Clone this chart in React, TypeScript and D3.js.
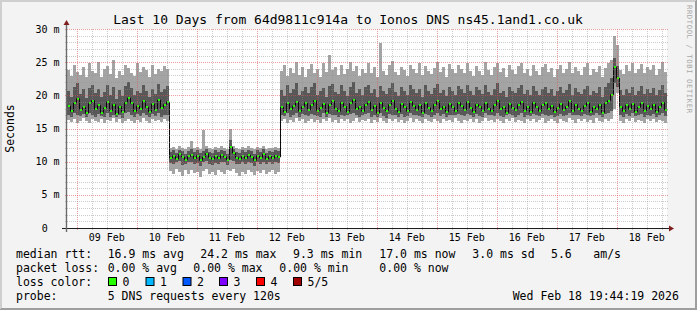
import React from "react";
import * as d3 from "d3";

const W = 697;
const H = 310;
const FONT = "'DejaVu Sans Mono', monospace";

const title = "Last 10 Days from 64d9811c914a to Ionos DNS ns45.1and1.co.uk";
const yAxisTitle = "Seconds";
const watermark = "RRDTOOL / TOBI OETIKER";
const yTickValues = [0, 5, 10, 15, 20, 25, 30];
const yTickLabels = ["0", "5 m", "10 m", "15 m", "20 m", "25 m", "30 m"];
const startTime = Date.UTC(2026, 1, 8, 20, 4);
const endTime = startTime + 10 * 86400000;
const binMinutes = 72;

// ping 1 (lowest of 5), per 72-minute bin, in ms
const pingMin = [
  16.3, 16.0, 16.5, 15.9, 16.2, 16.6, 16.1, 15.8, 16.4, 16.2,
  16.0, 16.5, 15.9, 16.3, 16.1, 16.6, 16.0, 16.4, 15.8, 16.2,
  16.5, 16.1, 15.9, 16.3, 16.0, 16.6, 16.2, 15.9, 16.4, 16.1,
  16.3, 16.0, 16.5, 16.2,
  8.6, 8.2, 8.9, 8.4, 7.9, 8.7, 8.1, 8.8, 8.3, 8.5,
  7.7, 8.6, 8.9, 8.2, 8.4, 8.0, 8.7, 8.5, 8.1, 8.8,
  8.6, 8.9, 8.3, 7.8, 8.5, 8.2, 8.7, 8.4, 8.0, 8.6,
  8.3, 8.8, 8.1, 8.5, 8.7, 8.2, 8.4,
  16.2, 16.5, 15.9, 16.3, 16.0, 16.6, 16.1, 16.4, 15.9, 16.2,
  16.5, 16.0, 16.3, 15.8, 16.4, 16.1, 16.6, 16.0, 16.3, 15.9,
  16.4, 16.1, 16.5, 15.9, 16.2, 16.6, 16.0, 16.3, 16.1, 16.5,
  15.9, 16.3, 16.0, 16.6, 16.2, 15.8, 16.4, 16.1, 16.5, 16.0,
  16.3, 15.9, 16.2, 16.6, 16.0, 16.4, 16.1, 15.9, 16.5, 16.2,
  16.0, 16.4, 16.2, 15.8, 16.5, 16.1, 16.3, 16.0, 16.6, 16.2,
  15.9, 16.3, 16.1, 16.5, 16.0, 16.4, 15.9, 16.2, 16.6, 16.1,
  16.3, 16.0, 16.5, 16.2, 15.8, 16.4, 16.1, 16.6, 16.0, 16.3,
  16.2, 15.9, 16.5, 16.1, 16.4, 16.0, 16.3, 16.6, 15.9, 16.2,
  16.4, 16.1, 15.8, 16.5, 16.2, 16.0, 16.6, 16.3, 15.9, 16.4,
  16.1, 16.5, 16.0, 16.3, 15.9, 16.6, 16.2, 16.0, 16.4, 16.1,
  16.5, 18.0, 20.4, 16.2, 15.9, 16.4, 16.1, 16.6, 16.0, 16.3,
  16.2, 15.9, 16.5, 16.1, 16.4, 16.0, 16.3, 16.2, 15.9,
];

// ping 2
const ping2 = [
  17.1, 16.8, 17.4, 17.0, 16.9, 17.2, 16.7, 17.3, 17.0, 16.8,
  17.2, 16.9, 16.8, 17.4, 16.7, 17.1, 16.8, 17.0, 16.6, 17.3,
  17.5, 17.0, 16.8, 17.2, 16.9, 17.3, 17.1, 16.7, 17.2, 16.9,
  17.4, 16.8, 17.1, 17.0,
  9.8, 9.6, 9.9, 10.1, 9.5, 9.7, 9.9, 10.0, 9.6, 9.8,
  9.4, 9.9, 10.1, 9.7, 9.5, 9.8, 9.6, 10.0, 9.9, 9.5,
  10.2, 10.1, 9.7, 9.6, 9.9, 9.7, 10.0, 9.8, 9.4, 9.9,
  9.7, 10.0, 9.6, 9.9, 9.7, 10.0, 9.8,
  17.0, 16.9, 17.3, 16.8, 17.1, 17.4, 16.8, 17.2, 17.0, 16.9,
  17.2, 17.1, 16.9, 16.7, 17.3, 16.8, 17.2, 17.0, 17.1, 16.7,
  17.1, 16.9, 17.0, 17.2, 17.4, 17.1, 16.8, 17.0, 17.2, 17.3,
  16.8, 17.1, 16.7, 17.3, 16.9, 16.6, 17.2, 17.0, 17.1, 16.8,
  17.2, 16.8, 16.9, 17.3, 17.0, 17.1, 16.9, 16.7, 17.2, 17.0,
  16.8, 17.1, 17.3, 16.9, 17.2, 16.8, 17.0, 17.1, 17.0, 17.2,
  17.0, 16.9, 17.2, 17.1, 16.8, 17.2, 16.9, 16.8, 17.3, 17.0,
  17.0, 16.9, 17.3, 16.9, 16.8, 17.0, 17.2, 17.1, 16.8, 17.1,
  17.3, 16.8, 17.1, 16.9, 17.2, 17.0, 16.9, 17.2, 17.0, 16.9,
  17.1, 16.8, 16.9, 17.2, 16.9, 17.0, 17.3, 17.0, 17.1, 17.0,
  16.9, 17.2, 17.1, 16.9, 17.0, 17.3, 17.1, 16.8, 17.2, 17.4,
  17.6, 21.8, 21.3, 17.1, 16.8, 17.2, 16.9, 17.3, 16.9, 17.0,
  17.2, 16.8, 17.1, 16.9, 17.2, 16.8, 17.0, 17.3, 16.9,
];

// ping 3 (median)
const median = [
  18.4, 17.6, 18.9, 19.5, 17.8, 18.2, 17.3, 18.8, 19.2, 17.9,
  18.5, 17.4, 18.1, 19.0, 17.7, 18.6, 17.2, 18.3, 17.5, 18.9,
  19.6, 18.8, 17.6, 18.4, 17.9, 19.1, 18.2, 17.5, 18.7, 17.8,
  19.3, 18.1, 18.6, 19.0,
  10.6, 10.9, 10.4, 11.1, 10.7, 10.3, 10.8, 11.0, 10.5, 10.9,
  10.2, 10.7, 11.2, 10.6, 10.4, 10.8, 10.5, 11.0, 10.7, 10.3,
  12.2, 11.3, 10.6, 10.4, 10.8, 10.5, 11.0, 10.7, 10.2, 10.9,
  10.6, 11.1, 10.4, 10.8, 10.5, 10.9, 10.7,
  18.2, 17.5, 18.8, 17.9, 18.4, 19.0, 17.6, 18.3, 18.9, 17.8,
  18.5, 19.2, 17.7, 18.1, 18.7, 17.4, 18.6, 19.1, 18.0, 17.6,
  18.9, 18.3, 17.5, 18.8, 19.3, 17.9, 18.2, 17.6, 18.6, 19.0,
  17.8, 18.4, 17.3, 18.9, 18.1, 17.7, 18.6, 19.2, 18.0, 17.5,
  18.7, 18.2, 17.6, 19.0, 18.4, 17.8, 18.5, 17.4, 18.8, 18.1,
  17.7, 18.6, 19.1, 17.9, 18.3, 17.5, 18.7, 18.2, 17.6, 18.9,
  18.4, 17.8, 19.0, 18.1, 17.5, 18.6, 18.3, 17.7, 18.8, 18.0,
  17.6, 18.5, 19.2, 17.9, 18.2, 17.4, 18.7, 18.1, 17.8, 18.6,
  19.0, 17.7, 18.3, 17.5, 18.9, 18.2, 17.6, 18.5, 18.8, 17.9,
  18.4, 17.5, 18.1, 18.7, 17.8, 18.3, 19.1, 17.6, 18.6, 18.0,
  17.7, 18.4, 18.9, 17.5, 18.2, 17.9, 18.6, 17.4, 18.8, 19.2,
  20.1, 24.2, 22.6, 18.3, 17.6, 18.5, 17.9, 18.7, 17.5, 18.2,
  18.8, 17.7, 18.4, 17.9, 18.6, 17.5, 18.3, 18.9, 17.8,
];

// ping 4
const ping4 = [
  20.6, 19.8, 21.3, 21.8, 20.2, 20.9, 19.6, 21.1, 21.5, 20.4,
  21.0, 19.7, 20.5, 21.6, 20.1, 21.2, 19.5, 20.8, 19.9, 21.4,
  22.0, 21.1, 20.0, 20.7, 20.3, 21.5, 20.6, 19.8, 21.0, 20.2,
  21.7, 20.5, 21.0, 21.4,
  11.5, 11.7, 11.3, 11.8, 11.6, 11.2, 11.6, 11.9, 11.4, 11.7,
  11.3, 11.6, 11.9, 11.5, 11.3, 11.7, 11.4, 11.8, 11.6, 11.2,
  13.2, 11.9, 11.5, 11.3, 11.7, 11.4, 11.8, 11.6, 11.2, 11.7,
  11.5, 11.9, 11.3, 11.6, 11.4, 11.8, 11.6,
  20.8, 19.9, 21.5, 20.3, 21.0, 21.8, 20.1, 20.7, 21.3, 20.4,
  21.2, 21.9, 20.0, 20.6, 21.1, 19.8, 21.4, 21.7, 20.5, 20.2,
  21.6, 20.7, 19.9, 21.3, 22.0, 20.4, 20.9, 20.1, 21.2, 21.5,
  20.3, 21.0, 19.7, 21.4, 20.6, 20.2, 21.1, 21.8, 20.5, 19.9,
  21.3, 20.7, 20.0, 21.6, 20.9, 20.3, 21.0, 19.8, 21.5, 20.6,
  20.2, 21.1, 21.7, 20.4, 20.8, 19.9, 21.3, 20.7, 20.1, 21.4,
  20.9, 20.3, 21.6, 20.6, 20.0, 21.2, 20.8, 20.2, 21.5, 20.5,
  20.1, 21.0, 21.8, 20.4, 20.7, 19.8, 21.3, 20.6, 20.3, 21.1,
  21.5, 20.2, 20.8, 20.0, 21.4, 20.7, 20.1, 21.0, 21.3, 20.4,
  20.9, 19.9, 20.6, 21.2, 20.3, 20.8, 21.7, 20.1, 21.1, 20.5,
  20.2, 20.9, 21.4, 20.0, 20.7, 20.4, 21.2, 19.8, 21.3, 21.8,
  22.6, 25.6, 24.4, 20.8, 20.1, 21.0, 20.4, 21.3, 20.0, 20.7,
  21.4, 20.2, 20.9, 20.4, 21.1, 20.0, 20.8, 21.5, 20.3,
];

// ping 5 (highest of 5)
const pingMax = [
  23.8, 22.9, 24.6, 23.5, 23.1, 24.2, 22.7, 24.9, 23.6, 23.3,
  25.0, 22.8, 23.9, 24.4, 23.2, 25.3, 22.6, 23.7, 23.0, 24.5,
  24.1, 23.4, 22.9, 24.8, 23.5, 24.3, 23.8, 22.7, 24.6, 23.2,
  24.0, 23.6, 24.4, 23.9,
  12.0, 12.2, 11.9, 12.3, 12.1, 11.9, 12.2, 13.1, 12.0, 12.2,
  11.9, 14.8, 12.3, 12.0, 11.9, 12.2, 12.0, 12.3, 12.1, 11.9,
  14.9, 12.3, 12.1, 11.9, 12.2, 12.0, 12.3, 12.1, 11.9, 12.2,
  12.0, 12.3, 11.9, 12.1, 12.0, 12.2, 12.1,
  23.6, 24.5, 22.9, 24.1, 23.4, 25.0, 23.1, 24.3, 22.8, 23.9,
  24.7, 23.3, 24.0, 22.7, 24.9, 23.5, 26.1, 23.8, 24.2, 23.0,
  24.6, 23.2, 23.9, 25.1, 23.6, 24.4, 22.9, 24.0, 23.3, 24.8,
  23.4, 24.2, 22.8, 27.9, 23.7, 23.1, 24.5, 25.2, 23.5, 23.0,
  24.3, 23.8, 22.9, 24.6, 24.0, 23.3, 24.9, 23.1, 24.4, 23.6,
  23.2, 24.1, 25.0, 23.5, 24.3, 22.8, 24.7, 23.9, 23.4, 24.5,
  24.0, 23.3, 24.8, 23.7, 22.9, 24.4, 23.6, 23.1, 25.1, 23.8,
  23.0, 24.3, 24.9, 23.5, 24.1, 22.7, 24.6, 23.8, 23.2, 24.4,
  24.8, 23.4, 24.0, 22.9, 24.5, 23.7, 23.1, 24.2, 24.7, 23.5,
  24.1, 22.8, 23.9, 24.6, 23.3, 24.0, 25.0, 23.4, 24.3, 23.7,
  23.1, 24.2, 24.8, 23.0, 23.9, 23.5, 24.4, 22.8, 24.1, 24.9,
  25.4, 28.9, 27.6, 23.8, 23.2, 24.5, 23.6, 24.9, 23.3, 24.0,
  24.7, 23.4, 24.2, 23.8, 24.6, 23.1, 24.0, 25.0, 23.5,
];

const statLabels = ["median rtt:", "packet loss:", "loss color:", "probe:"];
const rttItems = ["16.9 ms avg", "24.2 ms max", "9.3 ms min", "17.0 ms now", "3.0 ms sd", "5.6", "am/s"];
const rttX = [107.7, 200.3, 293, 379.3, 472.3, 551, 593.3];
const lossItems = ["0.00 % avg", "0.00 % max", "0.00 % min", "0.00 % now"];
const lossX = [107.7, 193.3, 279.3, 379.3];
const lossColorLabels = ["0", "1", "2", "3", "4", "5/5"];
const lossColors = ["#26ff00", "#00b8ff", "#0059ff", "#7e00ff", "#ff0000", "#a10000"];
const lossBoxX = [108, 145.5, 182.5, 219, 256, 293];
const probeText = "5 DNS requests every 120s";
const dateText = "Wed Feb 18 19:44:19 2026";

export default function App() {
  const x = d3
    .scaleUtc()
    .domain([new Date(startTime), new Date(endTime)])
    .range([67, 667]);
  const y = d3.scaleLinear().domain([0, 30]).range([228, 29]);
  const binMs = binMinutes * 60000;

  const bins = median.map((m, i) => ({
    x0: x(new Date(startTime + i * binMs)),
    x1: x(new Date(startTime + (i + 1) * binMs)),
    p1: pingMin[i],
    p2: ping2[i],
    med: m,
    p4: ping4[i],
    p5: pingMax[i],
  }));

  const linePts: [number, number][] = bins.map((b) => [b.x0, y(b.med)]);
  linePts.push([667, y(median[median.length - 1])]);
  const medLine = d3.line().curve(d3.curveStepAfter)(linePts) || "";

  const crisp = (v: number) => Math.round(v) + 0.5;

  const days = d3.utcDay.range(new Date(startTime), new Date(endTime));
  const sixHours = d3.utcHour
    .every(6)!
    .range(new Date(startTime), new Date(endTime))
    .filter((d) => d.getUTCHours() !== 0);
  const noons = d3.utcHour
    .every(12)!
    .range(new Date(startTime), new Date(endTime))
    .filter((d) => d.getUTCHours() === 12);
  const fmt = d3.utcFormat("%d %b");

  const minorY = d3.range(1, 31).filter((v) => v % 5 !== 0);
  const majorY = [5, 10, 15, 20, 25, 30];

  const minorStroke = "rgba(143,143,143,0.45)";
  const majorStroke = "rgba(222,79,79,0.55)";

  return (
    <svg
      width={W}
      height={H}
      style={{ position: "fixed", left: 0, top: 0 }}
      fontFamily={FONT}
    >
      <rect x={0} y={0} width={W} height={H} fill="#f3f3f3" />
      <line x1={0} y1={0.5} x2={W} y2={0.5} stroke="#cfcfcf" />
      <line x1={0} y1={1.5} x2={W - 1} y2={1.5} stroke="#cfcfcf" />
      <line x1={0.5} y1={0} x2={0.5} y2={H} stroke="#cfcfcf" />
      <line x1={1.5} y1={0} x2={1.5} y2={H - 1} stroke="#cfcfcf" />
      <line x1={0} y1={H - 0.5} x2={W} y2={H - 0.5} stroke="#9e9e9e" />
      <line x1={1} y1={H - 1.5} x2={W} y2={H - 1.5} stroke="#9e9e9e" />
      <line x1={W - 0.5} y1={0} x2={W - 0.5} y2={H} stroke="#9e9e9e" />
      <line x1={W - 1.5} y1={1} x2={W - 1.5} y2={H} stroke="#9e9e9e" />

      <rect x={67} y={29} width={600} height={199} fill="#ffffff" />

      {/* smoke */}
      <g shapeRendering="crispEdges">
        {bins.map((b, i) => (
          <rect
            key={"l" + i}
            x={b.x0}
            width={b.x1 - b.x0}
            y={y(b.p5)}
            height={y(b.p1) - y(b.p5)}
            fill="#a4a4a4"
          />
        ))}
        {bins.map((b, i) => (
          <rect
            key={"d" + i}
            x={b.x0}
            width={b.x1 - b.x0}
            y={y(b.p4)}
            height={y(b.p2) - y(b.p4)}
            fill="#585858"
          />
        ))}
      </g>
      <path d={medLine} fill="none" stroke="#0a0a0a" strokeWidth={1} transform="translate(0.5,0)" />
      <g shapeRendering="crispEdges">
        {bins.map((b, i) => (
          <rect
            key={"g" + i}
            x={b.x0 + 1}
            width={2}
            y={Math.round(y(b.med)) - 1}
            height={2}
            fill="#26ff00"
          />
        ))}
      </g>

      {/* grid */}
      <g>
        {sixHours.map((d, i) => (
          <line
            key={"vm" + i}
            x1={crisp(x(d))}
            x2={crisp(x(d))}
            y1={29}
            y2={231}
            stroke={minorStroke}
            strokeDasharray="1,1"
          />
        ))}
        {days.map((d, i) => (
          <line
            key={"vM" + i}
            x1={crisp(x(d))}
            x2={crisp(x(d))}
            y1={29}
            y2={231}
            stroke={majorStroke}
            strokeDasharray="1,1"
          />
        ))}
        {minorY.map((v) => (
          <line
            key={"hm" + v}
            x1={65}
            x2={669}
            y1={crisp(y(v))}
            y2={crisp(y(v))}
            stroke={minorStroke}
            strokeDasharray="1,1"
          />
        ))}
        {majorY.map((v) => (
          <line
            key={"hM" + v}
            x1={65}
            x2={669}
            y1={crisp(y(v))}
            y2={crisp(y(v))}
            stroke={majorStroke}
            strokeDasharray="1,1"
          />
        ))}
      </g>

      {/* axes */}
      <line x1={62} x2={669} y1={228.5} y2={228.5} stroke="#1f1f1f" />
      <line x1={66.5} x2={66.5} y1={232} y2={24} stroke="#6a6a6a" strokeWidth={1.4} />
      <path d="M669,225.5 L674,228.5 L669,231.5 Z" fill="#801f1f" />
      <path d="M63.5,25 L66.5,20 L69.5,25 Z" fill="#801f1f" />

      {/* y labels */}
      {yTickValues.map((v, i) => (
        <text
          key={"yl" + v}
          x={v === 0 ? 47.7 : 59.5}
          y={y(v) + 3.6}
          fontSize={10}
          textAnchor="end"
          fill="#000"
        >
          {yTickLabels[i]}
        </text>
      ))}
      {/* x labels */}
      {noons.map((d, i) => (
        <text
          key={"xl" + i}
          x={x(d)}
          y={241}
          fontSize={10}
          textAnchor="middle"
          fill="#000"
        >
          {fmt(d)}
        </text>
      ))}

      <text x={348} y={24} fontSize={13} textAnchor="middle" fill="#000">
        {title}
      </text>
      <text
        transform="translate(14,128.5) rotate(-90)"
        fontSize={11.5}
        textAnchor="middle"
        fill="#000"
      >
        {yAxisTitle}
      </text>
      <text
        transform="translate(686.5,5) rotate(90)"
        fontSize={7.2}
        fill="#a8a8a8"
        textLength={108}
        lengthAdjust="spacing"
      >
        {watermark}
      </text>

      {/* legend */}
      <g fontSize={11.5} fill="#000">
        {statLabels.map((s, i) => (
          <text key={"sl" + i} x={16} y={258 + i * 14}>
            {s}
          </text>
        ))}
        {rttItems.map((s, i) => (
          <text key={"r" + i} x={rttX[i]} y={258}>
            {s}
          </text>
        ))}
        {lossItems.map((s, i) => (
          <text key={"p" + i} x={lossX[i]} y={272}>
            {s}
          </text>
        ))}
        {lossColorLabels.map((s, i) => (
          <g key={"lc" + i}>
            <rect
              x={lossBoxX[i] + 0.5}
              y={277.5}
              width={8}
              height={8}
              fill={lossColors[i]}
              stroke="#000"
            />
            <text x={lossBoxX[i] + 14.5} y={286}>
              {s}
            </text>
          </g>
        ))}
        <text x={107.7} y={300}>
          {probeText}
        </text>
        <text x={512.7} y={300}>
          {dateText}
        </text>
      </g>
    </svg>
  );
}
